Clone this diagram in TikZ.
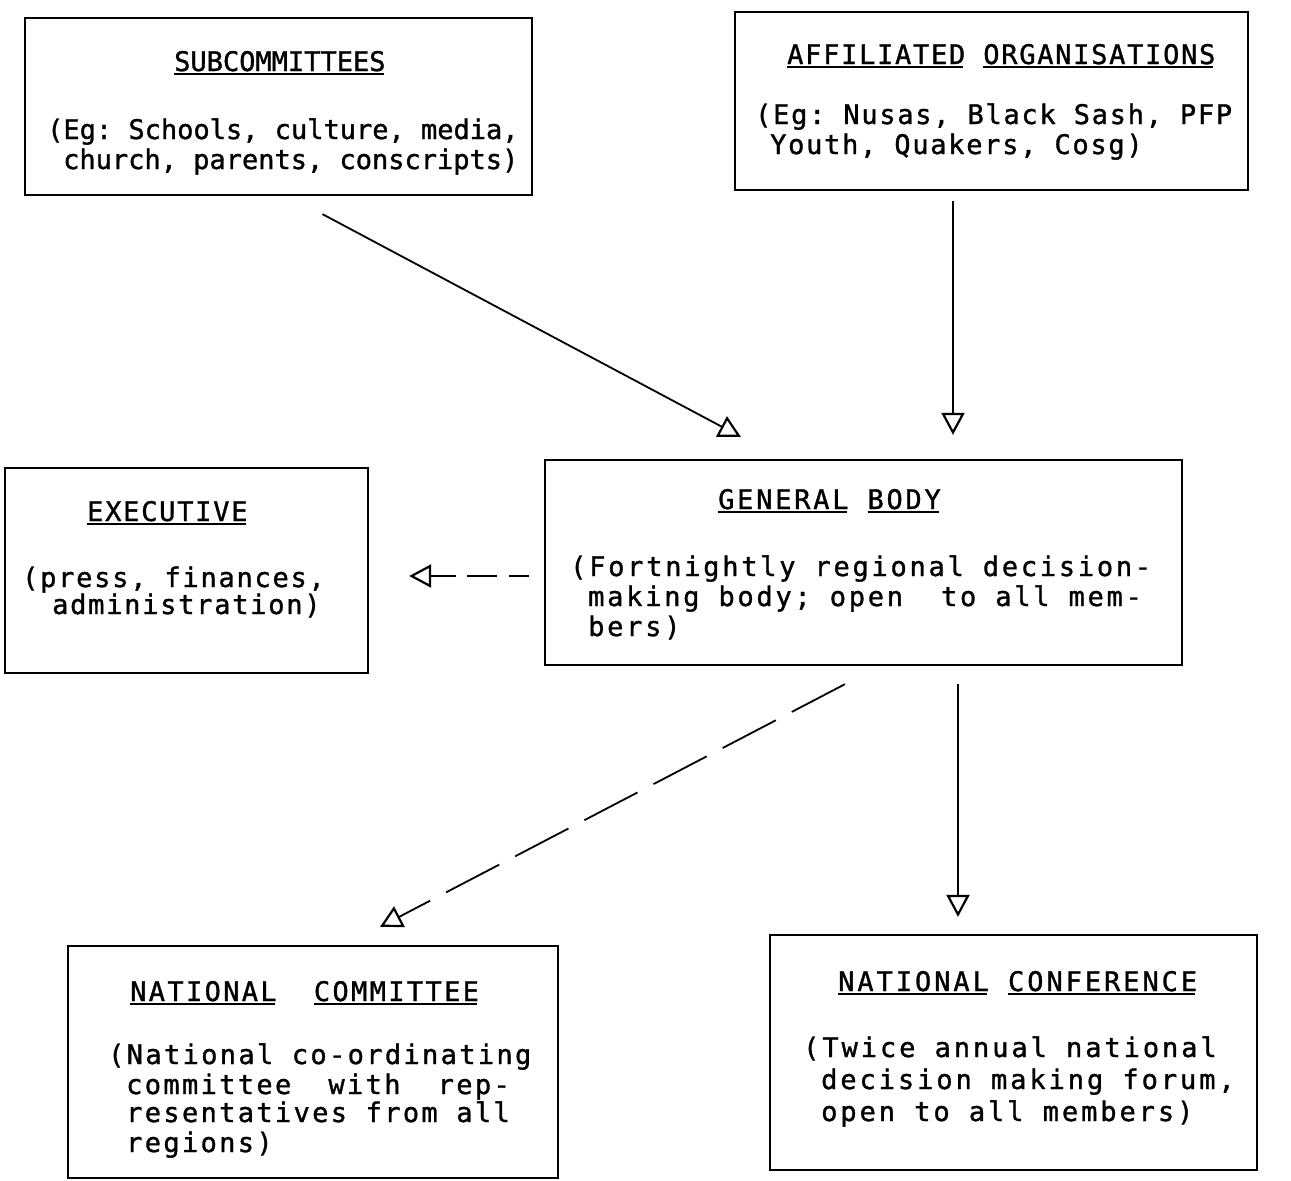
\documentclass[tikz,border=0pt]{standalone}
\usepackage{fontspec}
\usetikzlibrary{arrows.meta,calc}
\newfontfamily\fsub[FakeBold=1.2]{DejaVu Sans Mono}
\newfontfamily\faff[LetterSpace=6.4,FakeBold=1.2]{DejaVu Sans Mono}
\newfontfamily\fexe[LetterSpace=6.5,FakeBold=1.2]{DejaVu Sans Mono}
\newfontfamily\fgb[LetterSpace=10.2,FakeBold=1.2]{DejaVu Sans Mono}
\newfontfamily\fnc[LetterSpace=8.7,FakeBold=1.2]{DejaVu Sans Mono}
\newfontfamily\fcf[LetterSpace=10.9,FakeBold=1.2]{DejaVu Sans Mono}
\newcommand\setpitch[2]{#1\fontsize{27}{30}\selectfont\spaceskip=#2pt\relax\xspaceskip=#2pt\relax}
\newcommand\ulw[1]{\setbox0\hbox{#1}\rlap{\rule[-3.8pt]{\dimexpr\wd0-2pt\relax}{2.1pt}}\box0\relax}
\tikzset{
  box/.style={draw, line width=2.3pt, inner sep=0pt},
  txt/.style={anchor=base west, inner sep=0pt},
  tsub/.style={txt, font=\setpitch{\fsub}{16.26}},
  taff/.style={txt, font=\setpitch{\faff}{18.0}},
  texe/.style={txt, font=\setpitch{\fexe}{18.0}},
  tgb/.style={txt, font=\setpitch{\fgb}{19.0}},
  tnc/.style={txt, font=\setpitch{\fnc}{18.6}},
  tcf/.style={txt, font=\setpitch{\fcf}{19.2}},
  arr/.style={line width=1.8pt, -{Triangle[open, length=22pt, width=23pt, line width=2.2pt]}},
}
\begin{document}
\begin{tikzpicture}[x=1pt,y=-1pt]
\useasboundingbox (0,0) rectangle (1291,1181);
\fill[white] (0,0) rectangle (1291,1181);
% boxes
\node[box, minimum width=507pt, minimum height=177pt] (sub) at (278.5,106.5) {};
\node[box, minimum width=513pt, minimum height=178pt] (aff) at (991.5,101) {};
\node[box, minimum width=363pt, minimum height=205pt] (exe) at (186.5,570.5) {};
\node[box, minimum width=637pt, minimum height=205pt] (gb) at (863.5,562.5) {};
\node[box, minimum width=490pt, minimum height=232pt] (nc) at (313,1062) {};
\node[box, minimum width=487pt, minimum height=235pt] (cf) at (1013.5,1052.5) {};
% subcommittees
\node[tsub] (subt) at (174,71) {\ulw{SUBCOMMITTEES}};
\node[tsub] (sub1) at (47,139) {(Eg: Schools, culture, media,};
\node[tsub] (sub2) at (63,169) {church, parents, conscripts)};
% affiliated
\node[taff] (afft) at (787,64) {\ulw{AFFILIATED} \ulw{ORGANISATIONS}};
\node[taff] (aff1) at (755,124) {(Eg: Nusas, Black Sash, PFP};
\node[taff] (aff2) at (770,154) {Youth, Quakers, Cosg)};
% executive
\node[texe] (exet) at (87,521) {\ulw{EXECUTIVE}};
\node[texe] (exe1) at (22,587) {(press, finances,};
\node[texe] (exe2) at (52,614) {administration)};
% general body
\node[tgb] (gbt) at (718,509) {\ulw{GENERAL} \ulw{BODY}};
\node[tgb] (gb1) at (570,576) {(Fortnightly regional decision-};
\node[tgb] (gb2) at (588,606) {making body; open\ \ to all mem-};
\node[tgb] (gb3) at (588,636) {bers)};
% national committee
\node[tnc] (nct) at (130,1001) {\ulw{NATIONAL}\ \ \ulw{COMMITTEE}};
\node[tnc] (nc1) at (108,1064) {(National co-ordinating};
\node[tnc] (nc2) at (126,1094) {committee\ \ with\ \ rep-};
\node[tnc] (nc3) at (126,1122) {resentatives from all};
\node[tnc] (nc4) at (126,1152) {regions)};
% national conference
\node[tcf] (cft) at (838,991) {\ulw{NATIONAL} \ulw{CONFERENCE}};
\node[tcf] (cf1) at (803,1057) {(Twice annual national};
\node[tcf] (cf2) at (821,1089) {decision making forum,};
\node[tcf] (cf3) at (821,1121) {open to all members)};
% connectors
\draw[arr] ($(sub.south)+(44,18)$) -- ($(gb.north west)+(197,-22)$);
\draw[arr] ($(aff.south)+(-38.5,10)$) -- ($(gb.north)+(89.5,-24)$);
\draw[arr, dash pattern=on 20pt off 12pt on 30pt off 11pt on 200pt] ($(gb.west)+(-15,13.5)$) -- ($(exe.east)+(40,5.5)$);
\draw[arr, dash pattern=on 60pt off 18pt] ($(gb.south)+(-18.5,18)$) -- ($(nc.north)+(67,-18)$);
\draw[arr] ($(gb.south)+(94.5,18)$) -- ($(cf.north)+(-55.5,-17)$);
\end{tikzpicture}
\end{document}
